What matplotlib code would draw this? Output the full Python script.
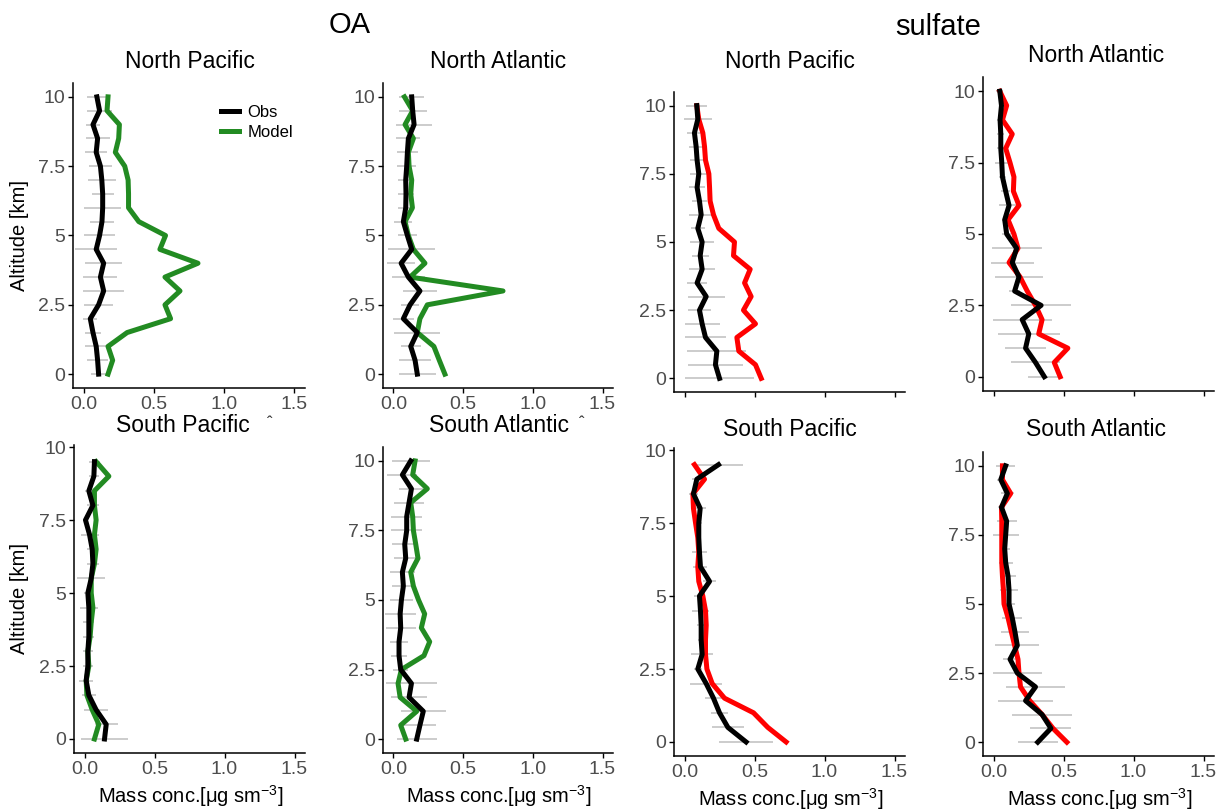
import matplotlib
matplotlib.use("Agg")
import matplotlib.pyplot as plt

plt.rcParams['font.family'] = ['Liberation Sans', 'DejaVu Sans']
plt.rcParams['mathtext.fontset'] = 'custom'
plt.rcParams['mathtext.rm'] = 'Liberation Sans'
plt.rcParams['mathtext.default'] = 'regular'

# altitude levels [km]
alt_full = [10, 9.5, 9, 8.5, 8, 7.5, 7, 6.5, 6, 5.5, 5, 4.5, 4, 3.5, 3, 2.5, 2, 1.5, 1, 0.5, 0]
alt_low = [9.5, 9, 8.5, 8, 7.5, 7, 6.5, 6, 5.5, 5, 4.5, 4, 3.5, 3, 2.5, 2, 1.5, 1, 0.5, 0]

# OA, North Pacific
oa_np_obs = [0.095, 0.114, 0.067, 0.10, 0.09, 0.12, 0.13, 0.136, 0.136, 0.131, 0.114, 0.09, 0.143, 0.12, 0.143, 0.107, 0.048, 0.067, 0.09, 0.10, 0.107]
oa_np_model = [0.174, 0.167, 0.255, 0.25, 0.226, 0.293, 0.317, 0.32, 0.32, 0.393, 0.583, 0.543, 0.814, 0.579, 0.686, 0.579, 0.619, 0.31, 0.174, 0.207, 0.174]
oa_np_err = [.067, .090, .052, .086, .079, .083, .100, .079, .131, .088, .110, .150, .131, .121, .148, .105, .050, .055, .081, .076, .052]

# OA, North Atlantic
oa_na_obs = [0.131, 0.138, 0.148, 0.107, 0.10, 0.095, 0.088, 0.09, 0.088, 0.071, 0.10, 0.131, 0.055, 0.107, 0.19, 0.119, 0.071, 0.171, 0.124, 0.155, 0.171]
oa_na_model = [0.079, 0.138, 0.083, 0.143, 0.107, 0.112, 0.131, 0.124, 0.136, 0.083, 0.107, 0.143, 0.226, 0.119, 0.786, 0.243, 0.19, 0.171, 0.29, 0.329, 0.369]
oa_na_err = [.088, .100, .131, .086, .076, .067, .055, .060, .052, .064, .067, .169, .100, .119, .124, .067, .076, .164, .071, .112, .133]

# sulfate, North Pacific
so4_np_obs = [0.088, 0.095, 0.071, 0.083, 0.09, 0.102, 0.09, 0.107, 0.119, 0.095, 0.126, 0.112, 0.126, 0.09, 0.155, 0.107, 0.126, 0.15, 0.231, 0.221, 0.25]
so4_np_model = [0.088, 0.102, 0.131, 0.143, 0.15, 0.174, 0.179, 0.183, 0.207, 0.245, 0.357, 0.35, 0.469, 0.429, 0.476, 0.421, 0.507, 0.374, 0.388, 0.507, 0.548]
so4_np_err = [.074, .100, .052, .050, .052, .062, .057, .055, .088, .048, .088, .060, .095, .074, .131, .083, .124, .143, .210, .195, .245]

# sulfate, North Atlantic
so4_na_obs = [0.045, 0.057, 0.047, 0.052, 0.052, 0.059, 0.064, 0.087, 0.111, 0.08, 0.094, 0.165, 0.134, 0.182, 0.151, 0.34, 0.205, 0.252, 0.229, 0.30, 0.363]
so4_na_model = [0.045, 0.094, 0.064, 0.134, 0.087, 0.118, 0.146, 0.142, 0.182, 0.104, 0.146, 0.175, 0.111, 0.189, 0.241, 0.30, 0.347, 0.323, 0.531, 0.434, 0.476]
so4_na_err = [.026, .021, .021, .024, .024, .047, .024, .031, .073, .021, .033, .179, .153, .172, .040, .212, .212, .222, .149, .177, .116]

# OA, South Pacific (no 10 km level)
oa_sp_obs = [0.071, 0.067, 0.031, 0.06, 0.007, 0.036, 0.055, 0.06, 0.048, 0.024, 0.031, 0.031, 0.031, 0.024, 0.024, 0.012, 0.031, 0.083, 0.155, 0.143]
oa_sp_model = [0.083, 0.174, 0.071, 0.071, 0.083, 0.071, 0.083, 0.071, 0.048, 0.048, 0.06, 0.048, 0.04, 0.024, 0.031, 0.012, 0.017, 0.055, 0.102, 0.071]
oa_sp_err = [.040, .038, .026, .040, .017, .064, .038, .045, .100, .031, .064, .040, .040, .038, .038, .052, .048, .086, .083, .167]

# OA, South Atlantic
oa_sa_obs = [0.124, 0.064, 0.129, 0.112, 0.095, 0.095, 0.081, 0.088, 0.064, 0.071, 0.057, 0.048, 0.052, 0.04, 0.04, 0.052, 0.129, 0.112, 0.214, 0.19, 0.167]
oa_sa_model = [0.155, 0.138, 0.243, 0.124, 0.138, 0.143, 0.16, 0.176, 0.124, 0.143, 0.18, 0.224, 0.2, 0.26, 0.219, 0.057, 0.033, 0.048, 0.167, 0.052, 0.088]
oa_sa_err = [.138, .107, .086, .107, .112, .112, .095, .086, .090, .083, .081, .112, .107, .064, .060, .052, .181, .131, .160, .112, .145]

# sulfate, South Pacific (no 10 km level)
so4_sp_obs = [0.243, 0.088, 0.064, 0.112, 0.102, 0.102, 0.107, 0.114, 0.179, 0.107, 0.114, 0.119, 0.119, 0.126, 0.095, 0.155, 0.207, 0.25, 0.31, 0.44]
so4_sp_model = [0.071, 0.143, 0.06, 0.064, 0.079, 0.095, 0.102, 0.095, 0.102, 0.131, 0.15, 0.155, 0.15, 0.15, 0.16, 0.198, 0.286, 0.493, 0.595, 0.726]
so4_sp_err = [.176, .038, .033, .045, .021, .019, .052, .050, .045, .036, .064, .033, .024, .081, .029, .114, .062, .064, .112, .195]

# sulfate, South Atlantic
so4_sa_obs = [0.087, 0.052, 0.099, 0.057, 0.094, 0.087, 0.08, 0.087, 0.104, 0.111, 0.111, 0.134, 0.153, 0.17, 0.118, 0.17, 0.30, 0.229, 0.347, 0.41, 0.316]
so4_sa_model = [0.064, 0.064, 0.123, 0.057, 0.059, 0.059, 0.059, 0.059, 0.064, 0.071, 0.075, 0.104, 0.127, 0.151, 0.175, 0.182, 0.193, 0.259, 0.347, 0.425, 0.524]
so4_sa_err = [.066, .026, .045, .026, .071, .092, .035, .050, .059, .064, .040, .073, .099, .158, .047, .177, .212, .196, .212, .146, .144]

x_ticks = [0.0, 0.5, 1.0, 1.5]
x_ticklabels = ["0.0", "0.5", "1.0", "1.5"]
y_ticks = [0, 2.5, 5, 7.5, 10]
y_ticklabels = ["0", "2.5", "5", "7.5", "10"]

oa_colour = "#228B22"
so4_colour = "#FF0000"
err_colour = "#BEBEBE"
text_colour = "#4D4D4D"

W, H = 1220, 810
fig = plt.figure(figsize=(W / 100, H / 100), dpi=100)

def px_axes(left, top, right, bottom):
    """Axes placed from pixel box of the reference"""
    return fig.add_axes([left / W, 1 - bottom / H, (right - left) / W, (bottom - top) / H])

# (title, alt, obs, model, err, colour, box, title_xy, ylim, show_xlabels, has_xlabel, has_ylabel)
panels = [
    ("North Pacific", alt_full, oa_np_obs, oa_np_model, oa_np_err, oa_colour, (73, 83, 305, 388), (190, 62), (-0.5, 10.5), True, False, True),
    ("North Atlantic", alt_full, oa_na_obs, oa_na_model, oa_na_err, oa_colour, (383, 83, 613, 388), (498, 62), (-0.5, 10.5), True, False, False),
    ("North Pacific", alt_full, so4_np_obs, so4_np_model, so4_np_err, so4_colour, (674, 92, 905, 392), (790, 62), (-0.5, 10.5), False, False, False),
    ("North Atlantic", alt_full, so4_na_obs, so4_na_model, so4_na_err, so4_colour, (983, 77, 1214, 391), (1096, 55), (-0.5, 10.5), False, False, False),
    ("South Pacific", alt_low, oa_sp_obs, oa_sp_model, oa_sp_err, oa_colour, (74, 445, 305, 753), (183, 426), (-0.48, 10.07), True, True, True),
    ("South Atlantic", alt_full, oa_sa_obs, oa_sa_model, oa_sa_err, oa_colour, (383, 447, 613, 753), (499, 426), (-0.5, 10.5), True, True, False),
    ("South Pacific", alt_low, so4_sp_obs, so4_sp_model, so4_sp_err, so4_colour, (674, 448, 905, 756), (790, 430), (-0.48, 10.07), True, True, False),
    ("South Atlantic", alt_full, so4_sa_obs, so4_sa_model, so4_sa_err, so4_colour, (983, 452, 1214, 756), (1096, 430), (-0.5, 10.5), True, True, False),
]

for i, (title, alt, obs, model, err, colour, box, title_xy, ylim, show_xlabels, has_xlabel, has_ylabel) in enumerate(panels):
    ax = px_axes(*box)
    ax.errorbar(obs, alt, xerr=err, fmt='none', ecolor=err_colour, elinewidth=1.1, capsize=0, zorder=1)
    ax.plot(obs, alt, color="black", lw=3.6, label="Obs", zorder=3)
    ax.plot(model, alt, color=colour, lw=3.6, label="Model", zorder=2)
    ax.set_xlim(-0.075, 1.575)
    ax.set_ylim(*ylim)
    ax.set_xticks(x_ticks)
    ax.set_yticks(y_ticks)
    ax.set_yticklabels(y_ticklabels)
    if show_xlabels:
        ax.set_xticklabels(x_ticklabels)
    else:
        ax.set_xticklabels([])
    for side in ["top", "right"]:
        ax.spines[side].set_visible(False)
    for side in ["left", "bottom"]:
        ax.spines[side].set_linewidth(1.1)
    ax.tick_params(direction='out', length=3.5, width=1.0, labelsize=14, labelcolor=text_colour, pad=2)
    fig.text(title_xy[0] / W, 1 - title_xy[1] / H, title, ha='center', va='center', fontsize=16.5, color="black")
    if has_xlabel:
        xl_y = 796 if i < 6 else 799
        fig.text(((box[0] + box[2]) / 2 + 1) / W, 1 - xl_y / H, "Mass conc.[μg sm$^{-3}$]",
                 ha='center', va='center', fontsize=14.5)
    if has_ylabel:
        fig.text(20 / W, 1 - ((box[1] + box[3]) / 2) / H, "Altitude [km]", rotation=90,
                 ha='center', va='center', fontsize=14.5)
    if i == 0:
        ax.legend(loc='upper left', bbox_to_anchor=(0.6, 0.955), frameon=False, fontsize=12,
                  handlelength=1.1, handletextpad=0.5, labelspacing=0.3, borderpad=0)

# small stray marks next to two bottom-row titles in the reference
fig.text(270 / W, 1 - 424 / H, "ˆ", ha='center', va='center', fontsize=12, color="#333333")
fig.text(582 / W, 1 - 424 / H, "ˆ", ha='center', va='center', fontsize=12, color="#333333")

fig.text(350 / W, 1 - 25 / H, "OA", ha='center', va='center', fontsize=21)
fig.text(938 / W, 1 - 27 / H, "sulfate", ha='center', va='center', fontsize=21)

fig.savefig("out.png", dpi=100)
